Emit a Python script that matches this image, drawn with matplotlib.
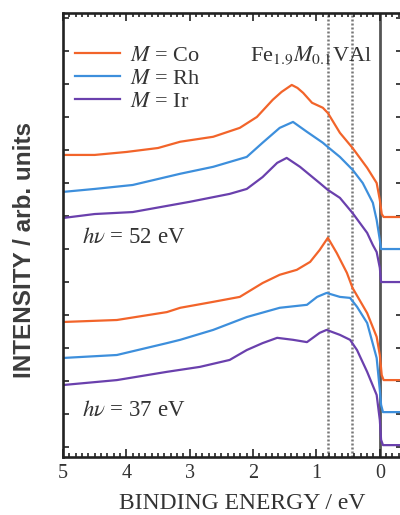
import numpy as np
import matplotlib
matplotlib.use("Agg")
import matplotlib.pyplot as plt
from matplotlib.ticker import MultipleLocator

plt.rcParams['font.family'] = ['Liberation Serif', 'DejaVu Serif']
plt.rcParams['mathtext.fontset'] = 'stix'

# --- data (binding energy in eV, intensity in arb. units) ---
# hv = 52 eV
e_co52 = [5.0, 4.5, 4.0, 3.5, 3.15, 2.63, 2.21, 1.94, 1.69, 1.55, 1.39, 1.30, 1.21, 1.07, 0.90,
          0.82, 0.63, 0.43, 0.20, 0.05, 0.0, -0.03, -0.06, -0.4]
i_co52 = [9.15, 9.15, 9.24, 9.36, 9.55, 9.70, 9.97, 10.30, 10.82, 11.06, 11.27, 11.18, 11.03, 10.73, 10.58,
          10.42, 9.82, 9.36, 8.76, 8.30, 7.79, 7.36, 7.27, 7.27]

e_rh52 = [5.0, 4.5, 3.9, 3.15, 2.63, 2.1, 1.85, 1.58, 1.37, 1.15, 0.90, 0.82, 0.63, 0.43, 0.27,
          0.11, 0.05, 0.0, -0.02, -0.4]
i_rh52 = [8.03, 8.12, 8.24, 8.58, 8.79, 9.09, 9.52, 9.97, 10.15, 9.85, 9.52, 9.39, 9.09, 8.70, 8.30,
          7.70, 7.18, 6.58, 6.30, 6.30]

e_ir52 = [5.0, 4.5, 3.9, 3.0, 2.37, 2.1, 1.85, 1.62, 1.47, 1.26, 0.95, 0.82, 0.63, 0.43, 0.20,
          0.11, 0.05, 0.0, -0.02, -0.4]
i_ir52 = [7.24, 7.36, 7.42, 7.73, 7.97, 8.12, 8.48, 8.91, 9.06, 8.79, 8.30, 8.09, 7.85, 7.39, 6.79,
          6.42, 6.21, 5.73, 5.30, 5.30]

# hv = 37 eV
e_co37 = [5.0, 4.15, 3.36, 3.15, 2.63, 2.21, 1.85, 1.58, 1.31, 1.10, 0.95, 0.82, 0.68, 0.52, 0.43,
          0.20, 0.05, 0.0, -0.03, -0.06, -0.4]
i_co37 = [4.09, 4.15, 4.39, 4.52, 4.70, 4.85, 5.27, 5.52, 5.67, 5.91, 6.27, 6.64, 6.18, 5.58, 5.12,
          4.36, 3.64, 3.09, 2.48, 2.33, 2.33]

e_rh37 = [5.0, 4.15, 3.36, 3.15, 2.63, 2.1, 1.58, 1.15, 0.99, 0.84, 0.63, 0.47, 0.36, 0.20, 0.05,
          0.0, -0.02, -0.05, -0.4]
i_rh37 = [3.00, 3.09, 3.45, 3.55, 3.85, 4.24, 4.52, 4.61, 4.85, 4.97, 4.85, 4.82, 4.55, 4.06, 3.00,
          2.03, 1.58, 1.36, 1.36]

e_ir37 = [5.0, 4.15, 3.36, 2.84, 2.37, 2.1, 1.85, 1.62, 1.37, 1.15, 0.95, 0.84, 0.63, 0.47, 0.36,
          0.20, 0.05, 0.0, -0.02, -0.05, -0.4]
i_ir37 = [2.18, 2.33, 2.58, 2.73, 2.94, 3.24, 3.45, 3.61, 3.55, 3.48, 3.76, 3.85, 3.70, 3.55, 3.24,
          2.58, 1.88, 1.12, 0.52, 0.36, 0.36]

marker_lines = [0.82, 0.44]   # dotted guides (eV)
x_ticks = [5, 4, 3, 2, 1, 0]

c_co = '#f2642a'
c_rh = '#3d8fdc'
c_ir = '#6a40ad'
txt = '#333333'

fig = plt.figure(figsize=(4.0, 5.15), dpi=100)
ax = fig.add_axes([0.1575, 0.1126, 0.8475, 0.8622])

ax.plot(e_co52, i_co52, color=c_co, lw=1.6, label=r'$M$ = Co')
ax.plot(e_rh52, i_rh52, color=c_rh, lw=1.6, label=r'$M$ = Rh')
ax.plot(e_ir52, i_ir52, color=c_ir, lw=1.6, label=r'$M$ = Ir')
ax.plot(e_co37, i_co37, color=c_co, lw=1.6)
ax.plot(e_rh37, i_rh37, color=c_rh, lw=1.6)
ax.plot(e_ir37, i_ir37, color=c_ir, lw=1.6)

for xv in marker_lines:
    ax.axvline(xv, color='#777777', lw=1.8, ls=(0, (0.8, 0.8)), zorder=1)
ax.axvline(0, color='#555555', lw=2.0, zorder=1)

ax.set_xlim(5, -0.35)
ax.set_ylim(0, 13.45)
ax.set_xticks(x_ticks)
ax.xaxis.set_minor_locator(MultipleLocator(0.1))
ax.set_yticks(np.arange(0.3, 13.45, 1.0))
ax.set_yticklabels([])
ax.tick_params(which='both', direction='in', top=True, right=True, colors='#222222',
               labelcolor=txt, labelsize=14.5, width=1.2)
ax.tick_params(which='major', length=6)
ax.tick_params(which='minor', length=3)
ax.tick_params(axis='y', length=4)
ax.tick_params(axis='x', pad=5)
for s in ax.spines.values():
    s.set_linewidth(1.9)
    s.set_color('#222222')

ax.set_xlabel('BINDING ENERGY / eV', fontsize=17, color=txt)
ax.xaxis.set_label_coords(0.528, -0.08)
ax.set_ylabel('INTENSITY / arb. units', fontsize=17.5, color='#3c3c3c', fontweight='bold',
              family=['Liberation Sans', 'DejaVu Sans'])
ax.yaxis.set_label_coords(-0.08, 0.466)

leg = ax.legend(loc='upper left', bbox_to_anchor=(-0.01, 0.962), frameon=False, fontsize=16,
                handlelength=2.0, handletextpad=0.45, labelspacing=0.1, borderaxespad=0.3)
for t in leg.get_texts():
    t.set_color(txt)

ax.text(1.09, 12.15, r'Fe$_{1.9}M_{0.1}$VAl', fontsize=16, color=txt, ha='center', va='center')
ax.text(4.7, 6.65, r'$h\nu$ = 52 eV', fontsize=16.5, color=txt, ha='left', va='center')
ax.text(4.7, 1.42, r'$h\nu$ = 37 eV', fontsize=16.5, color=txt, ha='left', va='center')

fig.savefig('out.png', dpi=100)
